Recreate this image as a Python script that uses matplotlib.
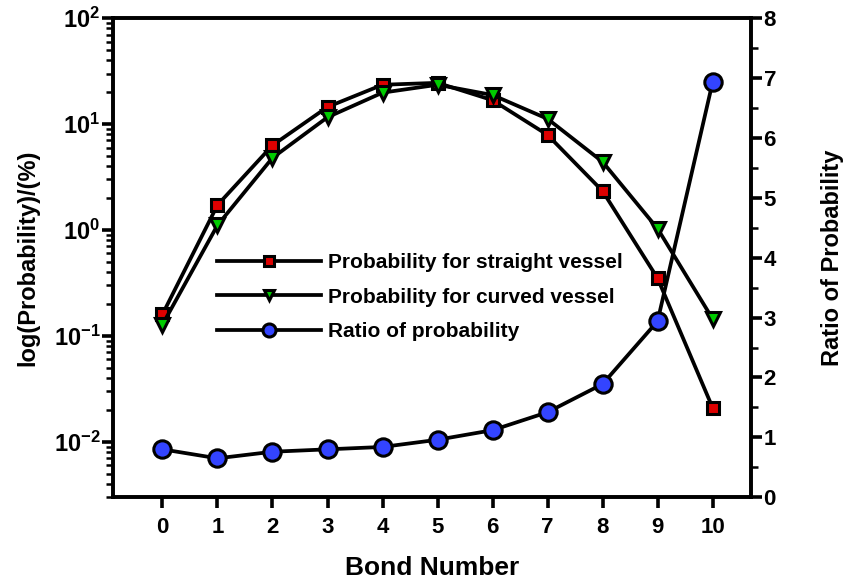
import matplotlib.pyplot as plt
import numpy as np
from matplotlib.ticker import FuncFormatter

plt.rcParams['font.family'] = ['Liberation Sans', 'DejaVu Sans']
plt.rcParams['font.weight'] = 'bold'
plt.rcParams['axes.labelweight'] = 'bold'
plt.rcParams['mathtext.fontset'] = 'custom'
plt.rcParams['mathtext.bf'] = 'Liberation Sans:bold'
plt.rcParams['mathtext.rm'] = 'Liberation Sans:bold'
plt.rcParams['axes.unicode_minus'] = False

bond = [0, 1, 2, 3, 4, 5, 6, 7, 8, 9, 10]
p_straight = [0.16, 1.72, 6.3, 14.5, 23.5, 24.5, 16.8, 7.9, 2.33, 0.35, 0.021]
p_curved = [0.128, 1.11, 4.8, 11.6, 19.8, 23.5, 18.8, 11.2, 4.4, 1.03, 0.145]
ratio = [0.8, 0.65, 0.76, 0.8, 0.84, 0.96, 1.12, 1.42, 1.89, 2.94, 6.93]

lw = 2.7
fig = plt.figure(figsize=(8.43, 5.85), dpi=100)
ax = fig.add_axes([0.134, 0.150, 0.757, 0.819])
ax2 = ax.twinx()

l1, = ax.plot(bond, p_straight, '-', color='black', lw=lw, marker='s', ms=9,
              mfc='#dd0000', mec='black', mew=2.2, label='Probability for straight vessel')
l2, = ax.plot(bond, p_curved, '-', color='black', lw=lw, marker='v', ms=10,
              mfc='#00cc00', mec='black', mew=2.2, label='Probability for curved vessel')
l3, = ax2.plot(bond, ratio, '-', color='black', lw=lw, marker='o', ms=12.5,
               mfc='#3344ff', mec='black', mew=2.2, label='Ratio of probability')

ax.set_yscale('log')
ax.set_ylim(0.003, 100)
ax.set_xlim(-0.9, 10.7)
ax.set_xticks(bond)
ax.yaxis.set_major_formatter(FuncFormatter(
    lambda v, p: r'$\mathbf{10^{%d}}$' % round(np.log10(v))))
ax2.set_ylim(0, 8)
ax2.set_yticks(range(0, 9))
ax2.set_yticks(np.arange(0.5, 8, 1), minor=True)

for a in (ax, ax2):
    for s in a.spines.values():
        s.set_linewidth(2.6)

ax.tick_params(axis='x', which='both', direction='out', length=8, width=2.6,
               labelsize=16, pad=6, top=False)
ax.tick_params(axis='y', which='major', direction='out', length=8, width=2.6,
               labelsize=17, pad=1)
ax.tick_params(axis='y', which='minor', direction='out', length=5, width=1.8)
ax2.tick_params(axis='y', which='major', direction='out', length=8, width=2.6,
                labelsize=16, pad=1)
ax2.tick_params(axis='y', which='minor', direction='out', length=5, width=1.8)

ax.set_xlabel('Bond Number', fontsize=19, labelpad=13)
ax.set_ylabel('log(Probability)/(%)', fontsize=17, labelpad=10)
ax2.set_ylabel('Ratio of Probability', fontsize=17, labelpad=32)

ax2.legend(handles=[l1, l2, l3], loc='upper left', bbox_to_anchor=(0.15, 0.527),
           frameon=False, fontsize=15, handlelength=5.0, handletextpad=0.35,
           labelspacing=0.75, borderaxespad=0, markerscale=0.75)

fig.savefig('out.png', dpi=100)
